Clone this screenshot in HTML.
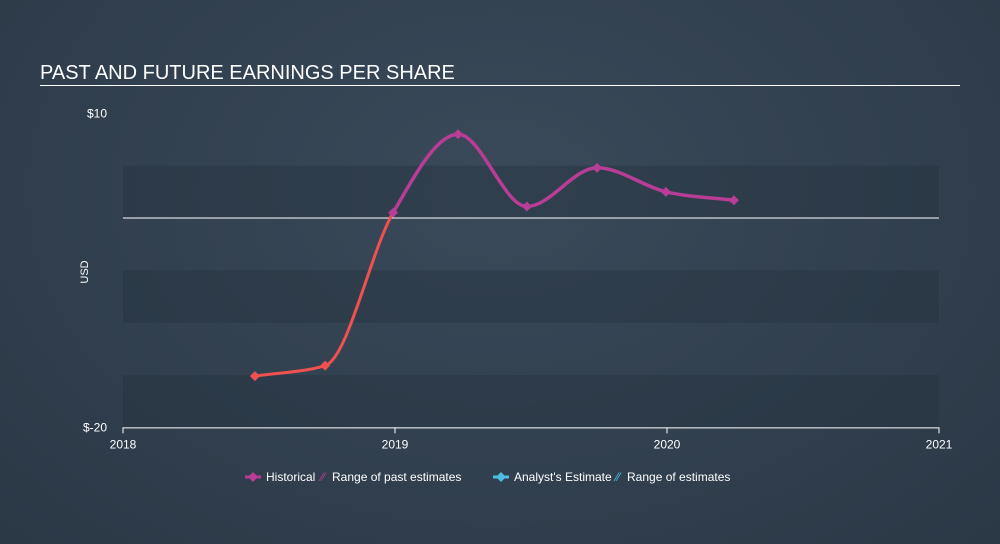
<!DOCTYPE html>
<html><head><meta charset="utf-8"><style>
body{margin:0;width:1000px;height:544px;overflow:hidden;font-family:"Liberation Sans",sans-serif;}
#bg{position:absolute;left:0;top:0;width:1000px;height:544px;background:radial-gradient(ellipse at 50% 35%,#3a4a5a 0%,#2f3d4c 70%,#2b3846 100%);}
</style></head><body>
<div id="bg"></div>
<svg width="1000" height="544" style="position:absolute;left:0;top:0">
<text x="40" y="79" fill="#fff" font-size="20">PAST AND FUTURE EARNINGS PER SHARE</text>
<line x1="40" y1="85.5" x2="960" y2="85.5" stroke="#fff" stroke-width="1"/>
<g id="bands"></g>
<g id="axes"></g>
<g id="series"></g>
<text x="88" y="272" fill="#fff" font-size="11" transform="rotate(-90 88 272)" text-anchor="middle">USD</text>
<g font-size="12" fill="#fff">
<g><line x1="245" y1="477" x2="261" y2="477" stroke="#b83d96" stroke-width="3"/><path d="M253 472 L258 477 L253 482 L248 477Z" fill="#b83d96"/><text x="266" y="481">Historical</text></g>
<g><text x="321" y="481" fill="#b83d96">⁄⁄</text><text x="332" y="481">Range of past estimates</text></g>
<g><line x1="493" y1="477" x2="509" y2="477" stroke="#4dbde0" stroke-width="3"/><path d="M501 472 L506 477 L501 482 L496 477Z" fill="#4dbde0"/><text x="514" y="481">Analyst's Estimate</text></g>
<g><text x="616" y="481" fill="#4dbde0">⁄⁄</text><text x="627" y="481">Range of estimates</text></g>
</g>
</svg>
<script>
const years=[2018.485,2018.743,2018.993,2019.232,2019.485,2019.743,2019.996,2020.246];
const eps=[-15.1,-14.1,0.5,8.0,1.1,4.8,2.5,1.7];
const yTicks=[10,-20];
const yTickLabels=["$10","$-20"];
const xTicks=[2018,2019,2020,2021];
const X=v=>123+(v-2018)*272;
const Y=v=>218-v*10.47;
const NS="http://www.w3.org/2000/svg";
function mk(p,t,a){const e=document.createElementNS(NS,t);for(const k in a)e.setAttribute(k,a[k]);p.appendChild(e);return e;}
const bands=document.getElementById('bands'),axes=document.getElementById('axes'),series=document.getElementById('series');
[[5,0],[-5,-10],[-15,-20]].forEach(([a,b])=>{
 const r=mk(bands,'rect',{x:123,y:Y(a),width:816,height:Y(b)-Y(a),fill:'#263340','fill-opacity':0.45});
 
 
});
const z=mk(axes,'line',{x1:123,x2:939,y1:Y(0),y2:Y(0),stroke:'#fff','stroke-width':1});


const xa=mk(axes,'line',{x1:123,x2:939,y1:Y(-20)+0.5,y2:Y(-20)+0.5,stroke:'#fff','stroke-width':1});


yTicks.forEach((v,i)=>{const t=mk(axes,'text',{x:107,y:Y(v)+4,fill:'#fff','font-size':12,'text-anchor':'end'});t.textContent=yTickLabels[i];
 
 });
xTicks.forEach(v=>{const l=mk(axes,'line',{x1:X(v),x2:X(v),y1:Y(-20),y2:Y(-20)+6,stroke:'#fff'});
 
 
 const t=mk(axes,'text',{x:X(v),y:Y(-20)+21,fill:'#fff','font-size':12,'text-anchor':'middle'});t.textContent=v;
 
 });
const pts=years.map((y,i)=>[X(y),Y(eps[i])]);
// monotone X tangents
const n=pts.length,sl=[],tg=[];
for(let i=0;i<n-1;i++)sl.push((pts[i+1][1]-pts[i][1])/(pts[i+1][0]-pts[i][0]));
for(let i=0;i<n;i++){
 if(i==0)tg.push(sl[0]);else if(i==n-1)tg.push(sl[n-2]);
 else{const a=sl[i-1],b=sl[i];if(a*b<=0)tg.push(0);else{const h0=pts[i][0]-pts[i-1][0],h1=pts[i+1][0]-pts[i][0];tg.push((a*h1+b*h0)/(h0+h1));
  const m=Math.min(Math.abs(a),Math.abs(b))*2*Math.sign(a);if(Math.abs(tg[i])>Math.abs(m))tg[i]=m;}}
}
function seg(i){const h=(pts[i+1][0]-pts[i][0])/3;
 return `C${pts[i][0]+h},${pts[i][1]+tg[i]*h} ${pts[i+1][0]-h},${pts[i+1][1]-tg[i+1]*h} ${pts[i+1][0]},${pts[i+1][1]}`;}
let dr=`M${pts[0][0]},${pts[0][1]}`;for(let i=0;i<2;i++)dr+=seg(i);
let dp=`M${pts[2][0]},${pts[2][1]}`;for(let i=2;i<n-1;i++)dp+=seg(i);
const r=mk(series,'path',{d:dr,fill:'none',stroke:'#f05050','stroke-width':3});


const p=mk(series,'path',{d:dp,fill:'none',stroke:'#b83d96','stroke-width':3.5});


pts.forEach(([x,y],i)=>{const m=mk(series,'path',{d:`M${x} ${y-5}L${x+5} ${y}L${x} ${y+5}L${x-5} ${y}Z`,fill:i<2?'#f05050':'#b83d96'});
 
 });
</script>
</body></html>
